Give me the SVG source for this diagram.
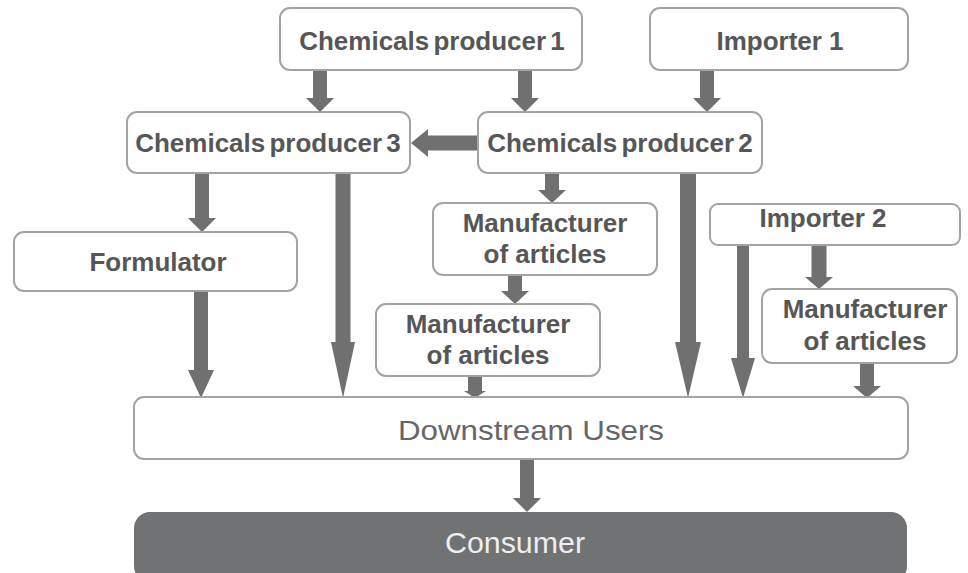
<svg xmlns="http://www.w3.org/2000/svg" width="968" height="573" viewBox="0 0 968 573">
  <style>
    .box { fill: #ffffff; stroke: #a3a3a3; stroke-width: 2; }
    .dark { fill: #717274; stroke: none; }
    .lbl { font-family: "Liberation Sans", Arial, sans-serif; font-weight: bold; font-size: 26px; fill: #565656; text-anchor: middle; }
    .big { font-family: "Liberation Sans", Arial, sans-serif; font-size: 28px; fill: #666666; text-anchor: middle; }
    .inv { font-family: "Liberation Sans", Arial, sans-serif; font-size: 29px; fill: #eeeeee; text-anchor: middle; }
    .arrow { fill: #707070; stroke: none; }
  </style>
  <rect width="968" height="573" fill="#ffffff"/>

  <!-- flow arrows (shaft + head as a single polygon) -->
  <g id="connectors" class="arrow">
    <path d="M313,70 H327 V98 H334 L320,112 L306,98 H313 Z"/>
    <path d="M518,70 H532 V98 H539 L525,112 L511,98 H518 Z"/>
    <path d="M700,70 H714 V98 H721 L707,112 L693,98 H700 Z"/>
    <path d="M478,135.5 V150.5 H428 V157 L411,143 L428,129 V135.5 Z"/>
    <path d="M195,173 H209 V218 H216 L202,232 L188,218 H195 Z"/>
    <path d="M335.5,173 H350.5 V342 H355 L343,398 L331,342 H335.5 Z"/>
    <path d="M194,291 H208 V370 H214 L201,398 L188,370 H194 Z"/>
    <path d="M545,173 H559 V190 H566 L552,203 L538,190 H545 Z"/>
    <path d="M508,275 H522 V291 H529 L515,304 L501,291 H508 Z"/>
    <path d="M468,376 H482 V391 H486 L475,398 L464,391 H468 Z"/>
    <path d="M680,173 H696 V342 H701 L688,398 L675,342 H680 Z"/>
    <path d="M737,245 H749 V358 H755 L743,398 L731,358 H737 Z"/>
    <path d="M811.5,245 H826.5 V277 H833 L819,289 L805,277 H811.5 Z"/>
    <path d="M860,363 H874 V386 H881 L867,398 L853,386 H860 Z"/>
    <path d="M520,459 H534 V498 H541 L527,512 L513,498 H520 Z"/>
  </g>

  <g id="chem1">
    <rect class="box" x="280" y="8" width="302" height="62" rx="10"/>
    <text class="lbl" x="432" y="50" word-spacing="-3">Chemicals producer 1</text>
  </g>
  <g id="importer1">
    <rect class="box" x="650" y="8" width="258" height="62" rx="10"/>
    <text class="lbl" x="780" y="50">Importer 1</text>
  </g>
  <g id="chem3">
    <rect class="box" x="127" y="112" width="283" height="61" rx="10"/>
    <text class="lbl" x="268" y="152" word-spacing="-3">Chemicals producer 3</text>
  </g>
  <g id="chem2">
    <rect class="box" x="478" y="112" width="284" height="61" rx="10"/>
    <text class="lbl" x="620" y="152" word-spacing="-3">Chemicals producer 2</text>
  </g>
  <g id="formulator">
    <rect class="box" x="14" y="232" width="283" height="59" rx="10"/>
    <text class="lbl" x="158" y="271">Formulator</text>
  </g>
  <g id="manufacturer1">
    <rect class="box" x="433" y="203" width="224" height="72" rx="10"/>
    <text class="lbl" x="545" y="232">Manufacturer</text>
    <text class="lbl" x="545" y="263">of articles</text>
  </g>
  <g id="manufacturer2">
    <rect class="box" x="376" y="304" width="224" height="72" rx="10"/>
    <text class="lbl" x="488" y="333">Manufacturer</text>
    <text class="lbl" x="488" y="364">of articles</text>
  </g>
  <g id="importer2">
    <rect class="box" x="710" y="204" width="250" height="41" rx="8"/>
    <text class="lbl" x="823" y="227">Importer 2</text>
  </g>
  <g id="manufacturer3">
    <rect class="box" x="762" y="289" width="195" height="74" rx="10"/>
    <text class="lbl" x="865" y="318">Manufacturer</text>
    <text class="lbl" x="865" y="350">of articles</text>
  </g>
  <g id="downstream">
    <rect class="box" x="134" y="397" width="774" height="62" rx="10"/>
    <text class="big" x="531" y="440" textLength="266" lengthAdjust="spacingAndGlyphs">Downstream Users</text>
  </g>
  <g id="consumer">
    <rect class="dark" x="134" y="512" width="773" height="70" rx="16"/>
    <text class="inv" x="515" y="553" textLength="140" lengthAdjust="spacingAndGlyphs">Consumer</text>
  </g>
</svg>
